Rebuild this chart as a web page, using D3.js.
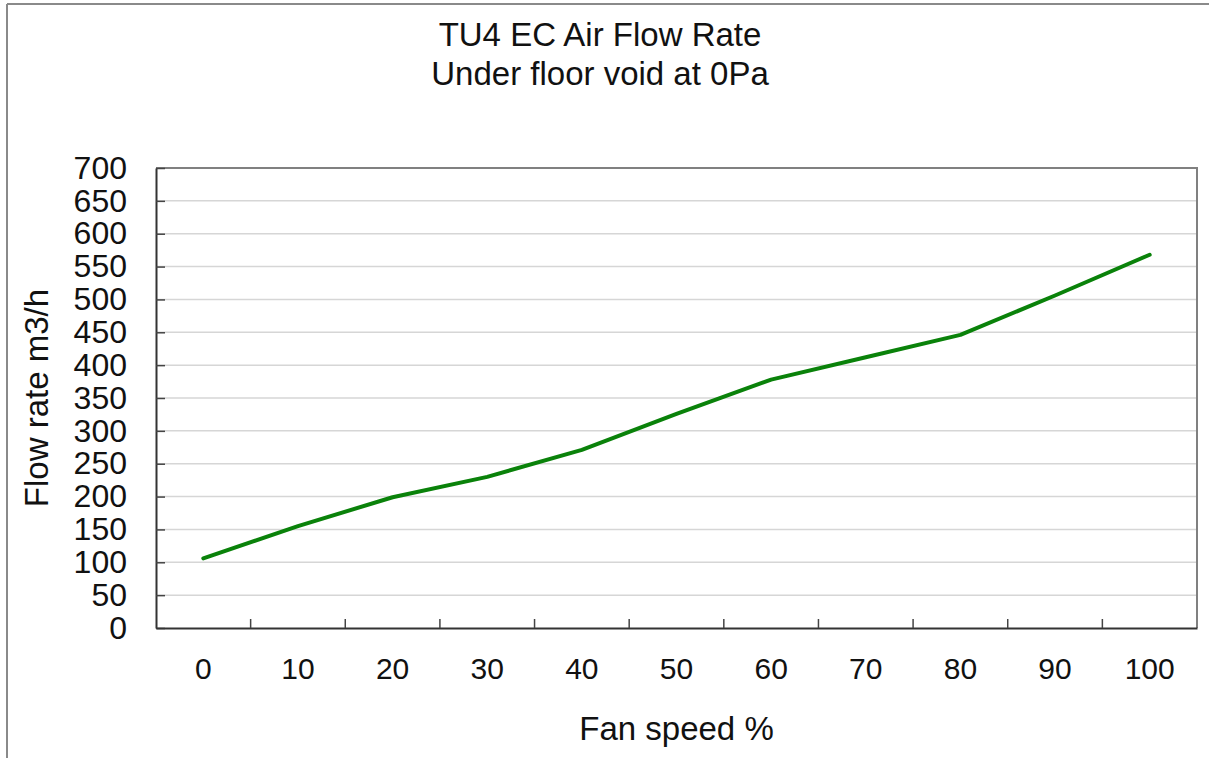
<!DOCTYPE html>
<html>
<head>
<meta charset="utf-8">
<script src="https://cdn.jsdelivr.net/npm/d3@7"></script>
<style>
  body { margin: 0; background: #fff; }
  text { font-family: "Liberation Sans", Arial, sans-serif; fill: #111; }
</style>
</head>
<body>
<svg id="chart" width="1209" height="758"></svg>
<script>
var fanSpeeds = ['0', '10', '20', '30', '40', '50', '60', '70', '80', '90', '100'];
var flowRates = [106, 155, 199, 230, 271, 326, 378, 412, 446, 506, 568];
var yTicks = [0, 50, 100, 150, 200, 250, 300, 350, 400, 450, 500, 550, 600, 650, 700];
var titleLines = ['TU4 EC Air Flow Rate', 'Under floor void at 0Pa'];

var svg = d3.select('#chart');

// outer frame (only top and left edges show in the picture)
svg.append('line').attr('x1', 7).attr('y1', 4).attr('x2', 1209).attr('y2', 4)
    .attr('stroke', '#8a8a8a').attr('stroke-width', 2);
svg.append('line').attr('x1', 7).attr('y1', 4).attr('x2', 7).attr('y2', 758)
    .attr('stroke', '#8a8a8a').attr('stroke-width', 2);

// plot box (note: "top" is taken by window.top)
var plotL = 156, plotR = 1197, plotT = 168, plotB = 628;

var x = d3.scaleBand().domain(fanSpeeds).range([plotL, plotR]);
var y = d3.scaleLinear().domain([0, 700]).range([plotB, plotT]);

// gridlines
svg.append('g').selectAll('line').data(yTicks.slice(1, -1)).join('line')
    .attr('x1', plotL).attr('x2', plotR)
    .attr('y1', function(d) { return y(d); }).attr('y2', function(d) { return y(d); })
    .attr('stroke', '#d6d6d6').attr('stroke-width', 1.5);

// plot border top/right
svg.append('path')
    .attr('d', 'M' + plotL + ',' + plotT + 'H' + plotR + 'V' + plotB)
    .attr('fill', 'none').attr('stroke', '#808080').attr('stroke-width', 2);

// y axis
var yAxis = d3.axisLeft(y).tickValues(yTicks).tickSizeInner(-9).tickSizeOuter(0).tickPadding(29);
var gy = svg.append('g').attr('transform', 'translate(' + plotL + ',0)').call(yAxis);
gy.select('.domain').attr('stroke', '#333').attr('stroke-width', 2);
gy.selectAll('.tick line').attr('stroke', '#444').attr('stroke-width', 1.5);
gy.selectAll('.tick text').attr('font-size', 32).attr('fill', '#111')
    .attr('font-family', '"Liberation Sans", Arial, sans-serif');

// x axis: ticks between categories, drawn inward
var xAxis = d3.axisBottom(x).tickSize(0).tickPadding(30);
var gx = svg.append('g').attr('transform', 'translate(0,' + plotB + ')').call(xAxis);
gx.select('.domain').attr('stroke', '#333').attr('stroke-width', 2);
gx.selectAll('.tick text').attr('font-size', 30).attr('fill', '#111')
    .attr('font-family', '"Liberation Sans", Arial, sans-serif');
svg.append('g').selectAll('line').data(fanSpeeds.slice(1)).join('line')
    .attr('x1', function(d) { return x(d); }).attr('x2', function(d) { return x(d); })
    .attr('y1', plotB).attr('y2', plotB - 9)
    .attr('stroke', '#444').attr('stroke-width', 1.5);

// data line
var line = d3.line()
    .x(function(d, i) { return x(fanSpeeds[i]) + x.bandwidth() / 2; })
    .y(function(d) { return y(d); });
svg.append('path').datum(flowRates)
    .attr('d', line)
    .attr('fill', 'none').attr('stroke', '#0a820a').attr('stroke-width', 4)
    .attr('stroke-linejoin', 'round').attr('stroke-linecap', 'round');

// titles
svg.append('g').selectAll('text').data(titleLines).join('text')
    .attr('x', 600).attr('y', function(d, i) { return 46 + i * 39; })
    .attr('text-anchor', 'middle').attr('font-size', 33)
    .text(function(d) { return d; });

svg.append('text')
    .attr('x', (plotL + plotR) / 2).attr('y', 740)
    .attr('text-anchor', 'middle').attr('font-size', 33)
    .text('Fan speed %');

svg.append('text')
    .attr('transform', 'translate(48,' + (plotT + plotB) / 2 + ') rotate(-90)')
    .attr('text-anchor', 'middle').attr('font-size', 33)
    .text('Flow rate  m3/h');
</script>
</body>
</html>
